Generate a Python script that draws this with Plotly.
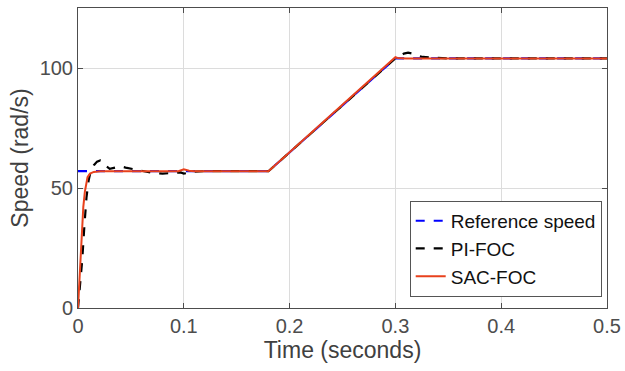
import plotly.graph_objects as go

# Reference speed
t_ref = [0, 0.18, 0.30, 0.5]
v_ref = [57, 57, 104, 104]

# PI-FOC
t_pi = [0, 0.002, 0.004, 0.006, 0.008, 0.010, 0.012, 0.015, 0.018, 0.021, 0.024, 0.027,
        0.030, 0.035, 0.040, 0.045, 0.050, 0.060, 0.070, 0.080, 0.090, 0.097, 0.100,
        0.104, 0.110, 0.120, 0.140, 0.180, 0.300, 0.304, 0.308, 0.312, 0.316, 0.320,
        0.326, 0.335, 0.350, 0.400, 0.5]
v_pi = [0, 9, 20, 34, 46, 53, 57, 59.5, 61, 61.5, 61, 59,
        58, 58.5, 59, 58.5, 58, 57, 56.3, 56, 56.2, 56.5, 56,
        56.3, 56.8, 57, 57, 57, 104, 105, 106, 106.4, 106, 105.2,
        104.6, 104.3, 104, 104, 104]

# SAC-FOC
t_sac = [0, 0.002, 0.0035, 0.005, 0.0065, 0.0076, 0.009, 0.0113, 0.015, 0.021,
         0.050, 0.095, 0.100, 0.105, 0.110, 0.180, 0.300, 0.302, 0.310, 0.5]
v_sac = [0, 17, 28, 42, 48.5, 52, 54.5, 56, 56.7, 57,
         57, 57, 57.8, 57.2, 57, 57, 104.5, 104.2, 104, 104]

fig = go.Figure()
fig.add_trace(go.Scatter(x=t_ref, y=v_ref, mode="lines", name="Reference speed",
                         line=dict(color="#0000ff", width=2.2, dash="dash")))
fig.add_trace(go.Scatter(x=t_pi, y=v_pi, mode="lines", name="PI-FOC",
                         line=dict(color="#000000", width=2.2, dash="dash")))
fig.add_trace(go.Scatter(x=t_sac, y=v_sac, mode="lines", name="SAC-FOC",
                         line=dict(color="#e8411c", width=2)))

axis_common = dict(
    showline=True, linecolor="#4d4d4d", linewidth=1, mirror="ticks",
    ticks="inside", ticklen=5, tickcolor="#4d4d4d",
    showgrid=True, gridcolor="#dcdcdc", gridwidth=1, zeroline=False,
    tickfont=dict(family="Liberation Sans, Arial", size=20, color="#4d4d4d"),
)

fig.update_layout(
    width=625, height=371,
    margin=dict(l=78, r=18, t=8, b=63),
    plot_bgcolor="white", paper_bgcolor="white",
    font=dict(family="Liberation Sans, Arial", color="#333333"),
    xaxis=dict(range=[0, 0.5], tickvals=[0, 0.1, 0.2, 0.3, 0.4, 0.5],
               ticktext=["0", "0.1", "0.2", "0.3", "0.4", "0.5"],
               title=dict(text="Time (seconds)", font=dict(size=23, color="#404040"), standoff=0),
               automargin=False,
               **axis_common),
    yaxis=dict(range=[0, 125], tickvals=[0, 50, 100],
               title=dict(text="Speed (rad/s)", font=dict(size=23, color="#404040"), standoff=4),
               **axis_common),
    legend=dict(x=0.99, y=0.037, xanchor="right", yanchor="bottom",
                bgcolor="white", bordercolor="#555555", borderwidth=1,
                font=dict(size=19, color="#111111"), tracegroupgap=0,
                itemwidth=30),
    showlegend=True,
)

fig.write_html("out.html")
